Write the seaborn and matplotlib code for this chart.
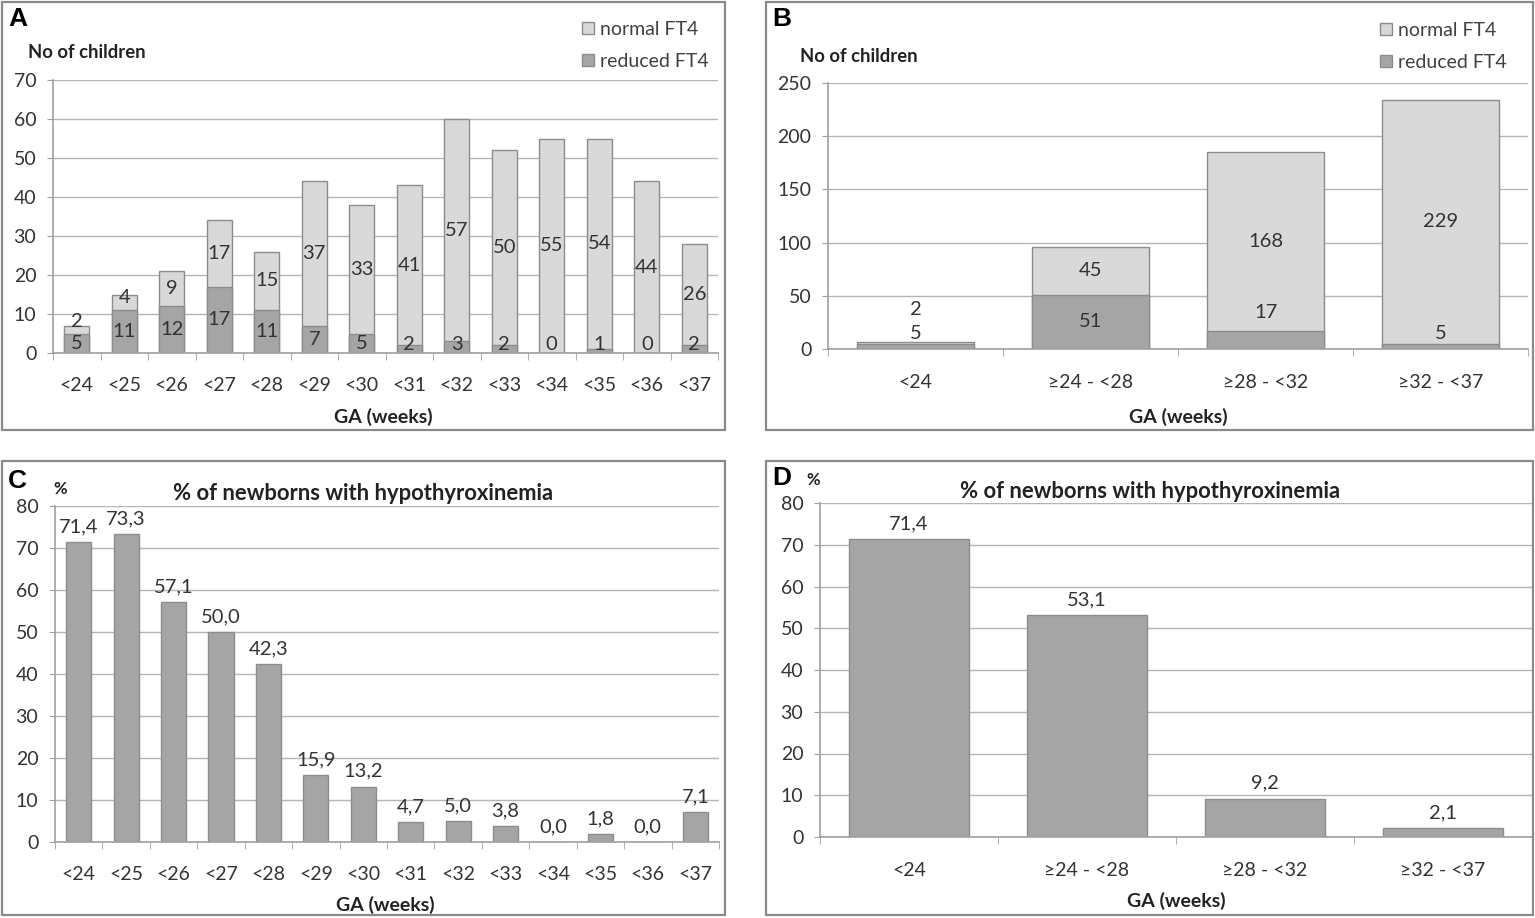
# Hypothyroxinemia in preterm newborns: counts and percentages by gestational age.

import numpy as np
import pandas as pd
import matplotlib
matplotlib.use("Agg")
import matplotlib.pyplot as plt
from matplotlib.patches import Rectangle, Patch
import seaborn as sns

# ── data ──────────────────────────────────────────────────────────────────────
ga_weeks = ["<24", "<25", "<26", "<27", "<28", "<29", "<30",
            "<31", "<32", "<33", "<34", "<35", "<36", "<37"]
reduced_a = [5, 11, 12, 17, 11, 7, 5, 2, 3, 2, 0, 1, 0, 2]
normal_a = [2, 4, 9, 17, 15, 37, 33, 41, 57, 50, 55, 54, 44, 26]

ga_groups = ["<24", "≥24 - <28", "≥28 - <32", "≥32 - <37"]
reduced_b = [5, 51, 17, 5]
normal_b = [2, 45, 168, 229]

pct_c = [71.4, 73.3, 57.1, 50.0, 42.3, 15.9, 13.2, 4.7, 5.0, 3.8, 0.0, 1.8, 0.0, 7.1]
pct_d = [71.4, 53.1, 9.2, 2.1]

# ── style ─────────────────────────────────────────────────────────────────────
sns.set_style("white")
plt.rcParams["font.family"] = ["Lato", "DejaVu Sans"]
LIGHT = "#d9d9d9"
DARK = "#a5a5a5"
EDGE = "#8c8c8c"
GRID = "#b5b5b5"
TXT = "#333333"
TICK_FS = 14
VAL_FS = 14.5

W, H = 1535, 918
fig = plt.figure(figsize=(W / 100, H / 100), dpi=100)


def px_axes(l, t, r, b):
    return fig.add_axes([l / W, 1 - b / H, (r - l) / W, (b - t) / H])


def px(x, y):
    return x / W, 1 - y / H


def frame(l, t, r, b):
    fig.patches.append(Rectangle(px(l, b), (r - l) / W, (b - t) / H,
                                 transform=fig.transFigure, fill=False,
                                 edgecolor="#8a8a8a", lw=1.6))


def style_axes(ax, n, ymax, ystep, xpad):
    ax.set_xlim(-0.5, n - 0.5)
    ax.set_ylim(0, ymax)
    ax.set_yticks(np.arange(0, ymax + 1, ystep))
    ax.set_xticks(np.arange(-0.5, n, 1.0), minor=True)
    ax.grid(axis="y", color=GRID, lw=1)
    ax.set_axisbelow(True)
    for s in ["top", "right"]:
        ax.spines[s].set_visible(False)
    for s in ["left", "bottom"]:
        ax.spines[s].set_color("#a0a0a0")
        ax.spines[s].set_linewidth(1.2)
    ax.tick_params(axis="x", which="major", length=0, pad=xpad,
                   labelsize=TICK_FS, labelcolor=TXT)
    ax.tick_params(axis="x", which="minor", length=5, color="#a0a0a0",
                   direction="out", bottom=True)
    ax.tick_params(axis="y", length=4, color="#a0a0a0", direction="out",
                   left=True, pad=8, labelsize=TICK_FS, labelcolor=TXT)
    ax.set_xlabel("")
    ax.set_ylabel("")


def stacked(ax, cats, reduced, normal, width):
    total = [r + n for r, n in zip(reduced, normal)]
    df = pd.DataFrame({"GA": cats, "total": total, "reduced": reduced})
    sns.barplot(data=df, x="GA", y="total", order=cats, color=LIGHT,
                saturation=1, edgecolor=EDGE, linewidth=1, width=width,
                errorbar=None, ax=ax)
    sns.barplot(data=df, x="GA", y="reduced", order=cats, color=DARK,
                saturation=1, edgecolor=EDGE, linewidth=1, width=width,
                errorbar=None, ax=ax)


def single(ax, cats, vals, width):
    df = pd.DataFrame({"GA": cats, "pct": vals})
    sns.barplot(data=df, x="GA", y="pct", order=cats, color=DARK,
                saturation=1, edgecolor=EDGE, linewidth=1, width=width,
                errorbar=None, ax=ax)
    for i, v in enumerate(vals):
        ax.annotate(f"{v:.1f}".replace(".", ","), (i, v), xytext=(0, 5),
                    textcoords="offset points", ha="center", va="bottom",
                    fontsize=VAL_FS, color=TXT)


def legend(x, y):
    handles = [Patch(facecolor=LIGHT, edgecolor=EDGE, label="normal FT4"),
               Patch(facecolor=DARK, edgecolor=EDGE, label="reduced FT4")]
    fig.legend(handles=handles, loc="upper right", bbox_to_anchor=px(x, y),
               frameon=False, fontsize=14, handlelength=0.6, handleheight=0.6,
               handletextpad=0.35, labelspacing=0.78, borderpad=0,
               borderaxespad=0, labelcolor="#404040")


def bold(x, y, s, size, ha="left"):
    fig.text(*px(x, y), s, fontsize=size, fontweight="bold", ha=ha,
             va="center", color="#222222")


def panel_letter(x, y, s):
    fig.text(*px(x, y), s, fontsize=19, fontweight="bold", ha="left",
             va="center", family=["Liberation Sans", "DejaVu Sans"], color="black")


# ── A: counts per week ────────────────────────────────────────────────────────
frame(2, 2, 725, 430)
ax_a = px_axes(53, 80, 718, 353)
stacked(ax_a, ga_weeks, reduced_a, normal_a, 0.53)
style_axes(ax_a, len(ga_weeks), 70, 10, 17)
for i, (r, n) in enumerate(zip(reduced_a, normal_a)):
    ax_a.text(i, max(r / 2, 2.2), str(r), ha="center", va="center",
              fontsize=VAL_FS, color=TXT)
    ax_a.text(i, max(r + n / 2, r + 3.2), str(n), ha="center", va="center",
              fontsize=VAL_FS, color=TXT)
panel_letter(8, 19, "A")
bold(28, 52, "No of children", 13.3)
bold(383, 417, "GA (weeks)", 14, ha="center")
legend(709, 21)

# ── B: counts per group ───────────────────────────────────────────────────────
frame(766, 2, 1533, 430)
ax_b = px_axes(828, 83, 1528, 349)
stacked(ax_b, ga_groups, reduced_b, normal_b, 0.67)
style_axes(ax_b, len(ga_groups), 250, 50, 18)
for i, (r, n) in enumerate(zip(reduced_b, normal_b)):
    yr = r / 2 if r >= 20 else max(2 * r, 15)
    yn = r + n / 2 if n >= 10 else r + n + 30
    ax_b.text(i, yr, str(r), ha="center", va="center", fontsize=VAL_FS, color=TXT)
    ax_b.text(i, yn, str(n), ha="center", va="center", fontsize=VAL_FS, color=TXT)
panel_letter(772, 19, "B")
bold(800, 57, "No of children", 13.3)
bold(1178, 417, "GA (weeks)", 14, ha="center")
legend(1507, 22)

# ── C: percentage per week ────────────────────────────────────────────────────
frame(2, 461, 725, 915)
ax_c = px_axes(55, 506, 719, 842)
single(ax_c, ga_weeks, pct_c, 0.53)
style_axes(ax_c, len(ga_weeks), 80, 10, 17)
panel_letter(8, 481, "C")
bold(53, 489, "%", 12)
bold(363, 494, "% of newborns with hypothyroxinemia", 15.8, ha="center")
bold(385, 905, "GA (weeks)", 14, ha="center")

# ── D: percentage per group ───────────────────────────────────────────────────
frame(766, 461, 1533, 915)
ax_d = px_axes(820, 503, 1532, 837)
single(ax_d, ga_groups, pct_d, 0.67)
style_axes(ax_d, len(ga_groups), 80, 10, 18)
panel_letter(772, 478, "D")
bold(806, 480, "%", 12)
bold(1150, 492, "% of newborns with hypothyroxinemia", 15.8, ha="center")
bold(1176, 901, "GA (weeks)", 14, ha="center")

fig.savefig("out.png", dpi=100)
